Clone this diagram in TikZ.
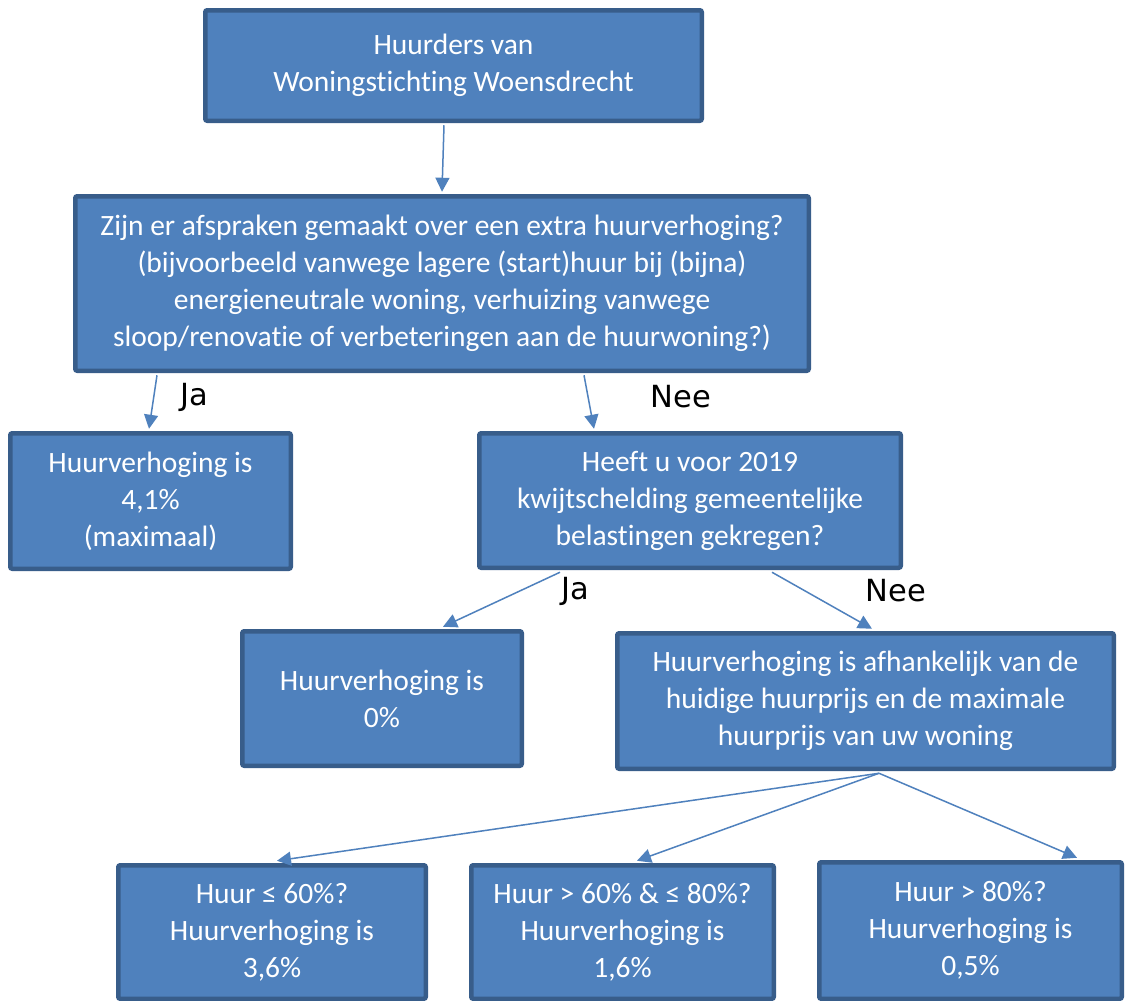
\documentclass[tikz,border=0pt]{standalone}
\usepackage{fontspec}
\setmainfont[RawFeature=-liga]{Carlito}
\newfontfamily\labelfont{DejaVu Sans}
\usetikzlibrary{arrows.meta,calc}
\definecolor{boxfill}{HTML}{4F81BD}
\definecolor{boxline}{HTML}{385D8A}
\tikzset{
  box/.style={draw=boxline, fill=boxfill, line width=4.5pt, rounded corners=2pt,
    text=white, align=center, inner sep=0pt, font=\fontsize{29.5}{37}\selectfont},
  arr/.style={draw=boxfill, line width=1.5pt, -{Triangle[length=14pt,width=14pt]}},
  lbl/.style={inner sep=0pt, font=\labelfont\fontsize{30.5}{30.5}\selectfont}
}
\begin{document}
\begin{tikzpicture}[x=1pt,y=-1pt]
\clip (0,0) rectangle (1128,1001);
\fill[white] (0,0) rectangle (1128,1001);

\node[box, minimum width=496.5pt, minimum height=110.5pt] (b1) at (453.5,65.5)
  {Huurders van\\Woningstichting Woensdrecht};
\node[box, minimum width=733.5pt, minimum height=174.5pt] (b2) at (442,283.5)
  {Zijn er afspraken gemaakt over een extra huurverhoging?\\(bijvoorbeeld vanwege lagere (start)huur bij (bijna)\\energieneutrale woning, verhuizing vanwege\\sloop/renovatie of verbeteringen aan de huurwoning?)};
\node[box, minimum width=280.5pt, minimum height=135.5pt] (b3) at (150.5,501)
  {Huurverhoging is\\4,1\%\\(maximaal)};
\node[box, minimum width=421.5pt, minimum height=134.5pt] (b4) at (690,500.5)
  {Heeft u voor 2019\\kwijtschelding gemeentelijke\\belastingen gekregen?};
\node[box, minimum width=279.5pt, minimum height=134.5pt] (b5) at (382,698.5)
  {Huurverhoging is\\0\%};
\node[box, minimum width=496.5pt, minimum height=135.5pt] (b6) at (865.5,701)
  {Huurverhoging is afhankelijk van de\\huidige huurprijs en de maximale\\huurprijs van uw woning};
\node[box, minimum width=307.5pt, minimum height=133.5pt] (b7) at (272,932)
  {Huur ≤ 60\%?\\Huurverhoging is\\3,6\%};
\node[box, minimum width=302.5pt, minimum height=133.5pt] (b8) at (622.5,932)
  {Huur > 60\% \& ≤ 80\%?\\Huurverhoging is\\1,6\%};
\node[box, minimum width=302.5pt, minimum height=136.5pt] (b9) at (970.5,930.5)
  {Huur > 80\%?\\Huurverhoging is\\0,5\%};

\draw[arr] ([xshift=-9.5pt,yshift=-2.25pt]b1.south) -- ([yshift=2.25pt]b2.north);
\draw[arr] ([xshift=-285pt,yshift=-2.25pt]b2.south) -- ([xshift=-1.5pt,yshift=2.25pt]b3.north);
\draw[arr] ([xshift=142pt,yshift=-2.25pt]b2.south) -- ([xshift=-96pt,yshift=2.25pt]b4.north);
\draw[arr] ([xshift=-130pt,yshift=-2.25pt]b4.south) -- ([xshift=61pt,yshift=2.25pt]b5.north);
\draw[arr] ([xshift=82pt,yshift=-2.25pt]b4.south) -- ([xshift=6.5pt,yshift=2.25pt]b6.north);
\draw[arr] ([xshift=13.5pt,yshift=-2.25pt]b6.south) -- ([xshift=5pt,yshift=2.25pt]b7.north);
\draw[arr] ([xshift=13.5pt,yshift=-2.25pt]b6.south) -- ([xshift=14.5pt,yshift=2.25pt]b8.north);
\draw[arr] ([xshift=13.5pt,yshift=-2.25pt]b6.south) -- ([xshift=106.5pt,yshift=2.25pt]b9.north);

\node[lbl] (l1) at (194,397) {Ja};
\node[lbl] (l2) at (681,397) {Nee};
\node[lbl] (l3) at (575,591) {Ja};
\node[lbl] (l4) at (896,591) {Nee};
\end{tikzpicture}
\end{document}
